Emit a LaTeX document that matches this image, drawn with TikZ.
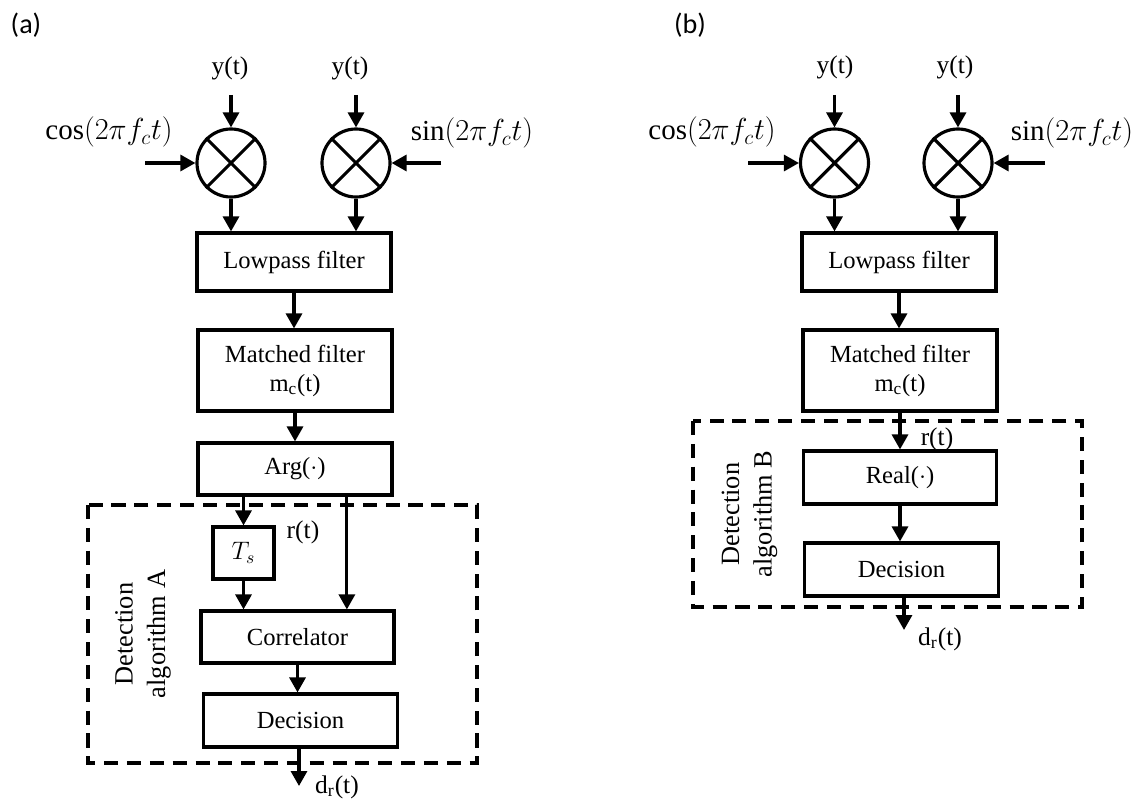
\documentclass[tikz,border=0pt]{standalone}
\usepackage{fontspec}
\setmainfont{Liberation Serif}
\newfontfamily\panelfont{Carlito}
\usetikzlibrary{shapes.geometric, arrows.meta}
\tikzstyle{block} = [rectangle, minimum width=3.88cm, minimum height=1.04cm, text centered, align=center, draw=black, line width=1.8pt, font=\fontsize{14}{16.5}\selectfont]
\tikzstyle{mixer} = [circle, minimum size=1.36cm, draw=black, line width=1.8pt]
\tikzstyle{sig} = [font=\fontsize{14.5}{16}\selectfont]
\tikzstyle{carrier} = [font=\fontsize{16.5}{19}\selectfont]
\tikzstyle{arrow} = [line width=1.8pt,-{Triangle[length=0.3cm,width=0.32cm]}]
\tikzstyle{region} = [draw=black, line width=1.8pt, dash pattern=on 8pt off 5pt]
\tikzstyle{panel} = [font=\panelfont\fontsize{16}{19}\selectfont]
\tikzstyle{algo} = [rotate=90, align=center, font=\fontsize{15}{18.5}\selectfont]

\begin{document}
\begin{tikzpicture}[node distance=2.17cm]
\useasboundingbox (0,0) rectangle (22.7,-16.08);

	% panel (a)
	\node (labA) [panel] at (0.52,-0.5) {(a)};

	\node (yinA1) [sig] at (4.60,-1.36) {y(t)};
	\node (yinA2) [sig] at (7.00,-1.36) {y(t)};
	\node (cosA) [carrier] at (2.18,-2.64) {$\cos(2\pi f_c t)$};
	\node (sinA) [carrier] at (9.44,-2.66) {$\sin(2\pi f_c t)$};

	\node (mixA1) [mixer] at (4.62,-3.26) {};
	\node (mixA2) [mixer] at (7.12,-3.26) {};

	\coordinate (topA1) at (4.62,-1.9);
	\coordinate (topA2) at (7.12,-1.9);
	\coordinate (cosinA) at (2.9,-3.26);
	\coordinate (sininA) at (8.82,-3.26);

	\node (lpA) [block, minimum height=1.16cm] at (5.88,-5.24) {Lowpass filter};
	\node (mfA) [block, minimum height=1.62cm, below of=lpA, xshift=0.02cm] {Matched filter\\m\textsubscript{c}(t)};
	\node (argA) [block, below of=mfA, node distance=1.97cm] {Arg($\cdot$)};
	\node (tsA) [block, minimum width=1.22cm] at (4.87,-11.06) {$T_s$};
	\node (rA) [sig] at (6.06,-10.64) {r(t)};
	\node (corrA) [block, minimum width=3.86cm] at (5.95,-12.74) {Correlator};
	\node (decA) [block, minimum height=1.06cm, below of=corrA, node distance=1.67cm, xshift=0.06cm] {Decision};
	\node (algA) [algo] at (2.86,-12.68) {Detection\\algorithm A};
	\coordinate (outA) at (5.98,-15.72);
	\node (drA) [sig] at (6.74,-15.74) {d\textsubscript{r}(t)};

	\draw [region] (1.76,-10.1) rectangle (9.54,-15.26);

	\draw [line width=1.8pt] (mixA1.45) -- (mixA1.225) (mixA1.135) -- (mixA1.315);
	\draw [line width=1.8pt] (mixA2.45) -- (mixA2.225) (mixA2.135) -- (mixA2.315);

	\draw [arrow] (topA1) -- (mixA1.north);
	\draw [arrow] (topA2) -- (mixA2.north);
	\draw [arrow] (cosinA) -- (mixA1.west);
	\draw [arrow] (sininA) -- (mixA2.east);
	\draw [arrow] (mixA1.south) -- (mixA1.south |- lpA.north);
	\draw [arrow] (mixA2.south) -- (mixA2.south |- lpA.north);
	\draw [arrow] (lpA.south) -- (lpA.south |- mfA.north);
	\draw [arrow] (mfA.south) -- (mfA.south |- argA.north);
	\draw [arrow] (tsA.north |- argA.south) -- (tsA.north);
	\draw [arrow] (argA.332) -- (argA.332 |- corrA.north);
	\draw [arrow] (tsA.south) -- (tsA.south |- corrA.north);
	\draw [arrow] (corrA.south) -- (corrA.south |- decA.north);
	\draw [arrow] (outA |- decA.south) -- (outA);

	% panel (b)
	\node (labB) [panel] at (13.8,-0.5) {(b)};

	\node (yinB1) [sig] at (16.70,-1.34) {y(t)};
	\node (yinB2) [sig] at (19.10,-1.34) {y(t)};
	\node (cosB) [carrier] at (14.24,-2.64) {$\cos(2\pi f_c t)$};
	\node (sinB) [carrier] at (21.44,-2.66) {$\sin(2\pi f_c t)$};

	\node (mixB1) [mixer] at (16.69,-3.26) {};
	\node (mixB2) [mixer] at (19.16,-3.26) {};

	\coordinate (topB1) at (16.69,-1.9);
	\coordinate (topB2) at (19.16,-1.9);
	\coordinate (cosinB) at (14.96,-3.26);
	\coordinate (sininB) at (20.9,-3.26);

	\node (lpB) [block, minimum height=1.16cm] at (17.98,-5.24) {Lowpass filter};
	\node (mfB) [block, minimum height=1.62cm, below of=lpB, xshift=0.02cm] {Matched filter\\m\textsubscript{c}(t)};
	\node (realB) [block, minimum width=3.86cm, minimum height=1.06cm, below of=mfB, node distance=2.14cm] {Real($\cdot$)};
	\node (decB) [block, minimum height=1.06cm, below of=realB, node distance=1.84cm, xshift=0.03cm] {Decision};
	\node (rB) [sig] at (18.74,-8.78) {r(t)};
	\node (algB) [algo] at (14.99,-10.28) {Detection\\algorithm B};
	\coordinate (outB) at (18.08,-12.6);
	\node (drB) [sig] at (18.8,-12.78) {d\textsubscript{r}(t)};

	\draw [region] (13.86,-8.42) rectangle (21.64,-12.14);

	\draw [line width=1.8pt] (mixB1.45) -- (mixB1.225) (mixB1.135) -- (mixB1.315);
	\draw [line width=1.8pt] (mixB2.45) -- (mixB2.225) (mixB2.135) -- (mixB2.315);

	\draw [arrow] (topB1) -- (mixB1.north);
	\draw [arrow] (topB2) -- (mixB2.north);
	\draw [arrow] (cosinB) -- (mixB1.west);
	\draw [arrow] (sininB) -- (mixB2.east);
	\draw [arrow] (mixB1.south) -- (mixB1.south |- lpB.north);
	\draw [arrow] (mixB2.south) -- (mixB2.south |- lpB.north);
	\draw [arrow] (lpB.south) -- (lpB.south |- mfB.north);
	\draw [arrow] (mfB.south) -- (mfB.south |- realB.north);
	\draw [arrow] (realB.south) -- (realB.south |- decB.north);
	\draw [arrow] (outB |- decB.south) -- (outB);

\end{tikzpicture}
\end{document}
